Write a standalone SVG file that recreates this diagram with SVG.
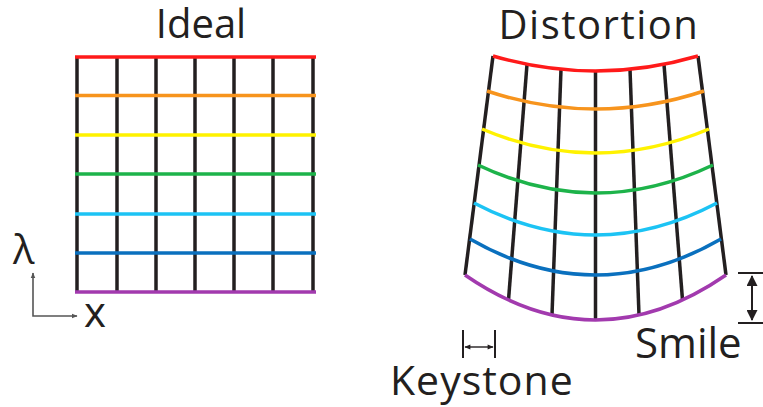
<svg xmlns="http://www.w3.org/2000/svg" width="763" height="407" viewBox="0 0 763 407">
<style>
text{font-family:"Open Sans","Noto Sans","Liberation Sans",sans-serif;fill:#231f20}
.g{stroke:#231f20;stroke-width:3.5;fill:none}
.c{stroke-width:3.5;fill:none;stroke-linecap:butt}
.r{stroke:#ff1a1a}.o{stroke:#f7941d}.y{stroke:#fff200}.gr{stroke:#1db34a}.cy{stroke:#1cc3f4}.b{stroke:#0a70be}.p{stroke:#a23aae}
</style>
<defs>
<marker id="ag" viewBox="0 0 10 10" refX="9" refY="5" markerWidth="6" markerHeight="6" orient="auto-start-reverse" markerUnits="userSpaceOnUse"><path d="M0,1 L10,5 L0,9 Z" fill="#555"/></marker>
<marker id="ak" viewBox="0 0 10 10" refX="9" refY="5" markerWidth="7" markerHeight="6" orient="auto-start-reverse" markerUnits="userSpaceOnUse"><path d="M0,1 L10,5 L0,9 Z" fill="#231f20"/></marker>
<marker id="as" viewBox="0 0 10 10" refX="9" refY="5" markerWidth="14" markerHeight="11" orient="auto-start-reverse" markerUnits="userSpaceOnUse"><path d="M0,0 L10,5 L0,10 Z" fill="#231f20"/></marker>
</defs>

<g id="ideal">
<text x="201" y="38" font-size="40" text-anchor="middle">Ideal</text>
<g class="g">
<line x1="77" y1="57" x2="77" y2="293"/>
<line x1="117" y1="57" x2="117" y2="293"/>
<line x1="156" y1="57" x2="156" y2="293"/>
<line x1="195" y1="57" x2="195" y2="293"/>
<line x1="234" y1="57" x2="234" y2="293"/>
<line x1="273" y1="57" x2="273" y2="293"/>
<line x1="313" y1="57" x2="313" y2="293"/>
</g>
<line class="c r" x1="75" y1="57" x2="316" y2="57"/>
<line class="c o" x1="75" y1="95.5" x2="316" y2="95.5"/>
<line class="c y" x1="75" y1="135" x2="316" y2="135"/>
<line class="c gr" x1="75" y1="174" x2="316" y2="174"/>
<line class="c cy" x1="75" y1="214" x2="316" y2="214"/>
<line class="c b" x1="75" y1="253" x2="316" y2="253"/>
<line class="c p" x1="75" y1="292" x2="316" y2="292"/>
</g>

<g id="axes">
<text x="13" y="264" font-size="40">λ</text>
<path d="M33,273 V316 H77" fill="none" stroke="#555" stroke-width="1.6" marker-start="url(#ag)" marker-end="url(#ag)"/>
<text x="84" y="327" font-size="42">x</text>
</g>

<g id="distortion">
<text x="599" y="39" font-size="40" text-anchor="middle" letter-spacing="1.5">Distortion</text>
<g class="g">
<line x1="493" y1="56" x2="465" y2="275"/>
<line x1="527" y1="64.3" x2="508.5" y2="300"/>
<line x1="561" y1="69.3" x2="552" y2="315"/>
<line x1="595.5" y1="71" x2="595.5" y2="320"/>
<line x1="630" y1="69.3" x2="639" y2="315"/>
<line x1="664" y1="64.3" x2="682.5" y2="300"/>
<line x1="698" y1="56" x2="726" y2="275"/>
</g>
<path class="c r" d="M493,56 Q595.5,86 698,56"/>
<path class="c o" d="M487,91 Q595.5,127 704,91"/>
<path class="c y" d="M482,129 Q595.5,177 709,129"/>
<path class="c gr" d="M478,165 Q595.5,221 713,165"/>
<path class="c cy" d="M474,203 Q595.5,267 717,203"/>
<path class="c b" d="M470,239 Q595.5,311 721,239"/>
<path class="c p" d="M465,275 Q595.5,365 726,275"/>
</g>

<g id="keystone">
<line x1="463" y1="330" x2="463" y2="358" stroke="#231f20" stroke-width="2"/>
<line x1="495" y1="330" x2="495" y2="358" stroke="#231f20" stroke-width="2"/>
<line x1="465" y1="347" x2="493" y2="347" stroke="#231f20" stroke-width="1.4" marker-start="url(#ak)" marker-end="url(#ak)"/>
<text x="390" y="395" font-size="41" letter-spacing="1">Keystone</text>
</g>

<g id="smile">
<line x1="738" y1="273" x2="763" y2="273" stroke="#231f20" stroke-width="2"/>
<line x1="738" y1="323" x2="763" y2="323" stroke="#231f20" stroke-width="2"/>
<line x1="752" y1="276" x2="752" y2="320" stroke="#231f20" stroke-width="2" marker-start="url(#as)" marker-end="url(#as)"/>
<text x="635" y="358" font-size="42">Smile</text>
</g>
</svg>
